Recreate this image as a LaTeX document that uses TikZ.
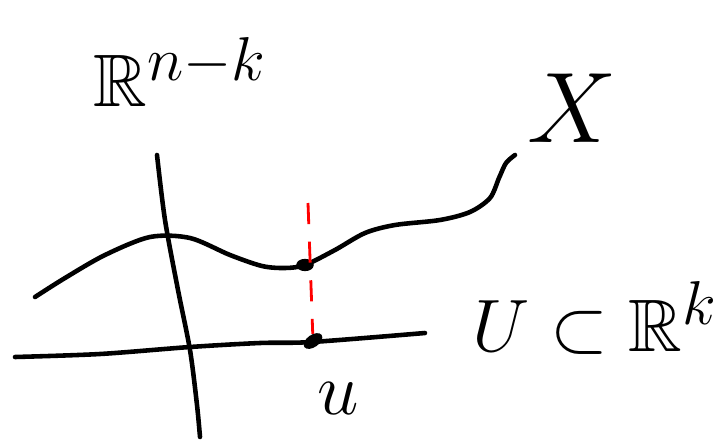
\documentclass[tikz,border=0pt]{standalone}
\usepackage{amssymb}
\usepackage{tikz}
\usetikzlibrary{shapes.geometric, positioning, calc}

\begin{document}
\begin{tikzpicture}[
    x=0.02cm, y=-0.02cm,
    stroke/.style={line width=2.6pt, line cap=round, line join=round},
    fibre/.style={red, line width=1.6pt, dash pattern=on 12pt off 10pt},
    blob/.style={fill=black, ellipse, inner sep=0pt, minimum width=10pt, minimum height=7pt},
    lbl/.style={font=\Huge, scale=1.7, inner sep=0pt},
]
\useasboundingbox (0,0) rectangle (714,443);

% axes
\draw[stroke] plot[smooth] coordinates {(15,357) (100,354) (190,347) (260,343) (312,342) (425,333)};
\draw[stroke] plot[smooth] coordinates {(157,155) (165,220) (178,290) (190,350) (197,405) (200,437)};

% the submanifold X
\draw[stroke] plot[smooth] coordinates {(35,297) (65,278) (105,255) (150,237) (190,238) (230,255)
    (262,266) (285,268) (305,265) (335,250) (365,233) (395,225) (440,220) (470,212)
    (490,198) (499,178) (506,163) (515,155)};

% points
\node[blob] (px) at (305,265) {};
\node[blob, rotate=35, minimum width=12pt] (pu) at (313,341) {};
\coordinate (top) at (308,203);
\draw[fibre] (top) -- (pu);

% labels
\node[lbl] (rnk) at (180,72) {$\mathbb{R}^{n-k}$};
\node[lbl, scale=1.35] (xl) at (572,108) {$X$};
\node[lbl] (ul) at (595,318) {$U\subset\mathbb{R}^{k}$};
\node[lbl] (ulbl) at (338,398) {$u$};

\end{tikzpicture}
\end{document}
